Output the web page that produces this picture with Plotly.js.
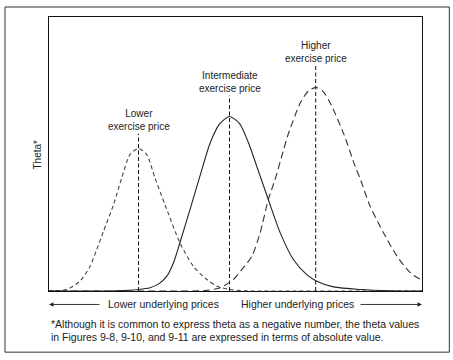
<!DOCTYPE html>
<html>
<head>
<meta charset="utf-8">
<script src="https://cdn.plot.ly/plotly-3.0.1.min.js"></script>
<style>
  html, body { margin: 0; padding: 0; background: #fff; }
  #chart { width: 453px; height: 360px; }
</style>
</head>
<body>
<div id="chart"></div>
<script>
// Underlying price (0-100, arbitrary units) and theta (absolute value, arbitrary units)
const xLower = [0, 4.75, 8.3, 11.0, 12.8, 14.6, 17.3, 19.5, 21.7, 24.0, 26.2, 28.4, 31.1, 35.1, 38.7, 42.3, 45.0, 48.6, 52.6, 56.6, 100];
const thetaLower = [0.1, 0.55, 3.6, 9.0, 15.1, 21.8, 31.5, 41.3, 49.8, 52.0, 49.8, 41.3, 31.5, 17.6, 9.0, 4.2, 1.75, 0.55, 0.07, 0, 0];

const xIntermediate = [0, 18.2, 24.0, 27.1, 29.5, 31.6, 33.4, 35.1, 37.8, 40.5, 43.2, 45.7, 48.4, 51.1, 53.5, 55.7, 58.8, 62.0, 65.5, 69.1, 71.8, 76.3, 83.4, 91.5, 100];
const thetaIntermediate = [0, 0.07, 0.55, 1.2, 2.7, 5.4, 10.4, 17.6, 29.7, 42.1, 54.0, 60.9, 63.7, 61.1, 54.0, 45.5, 33.4, 21.2, 11.5, 6.0, 3.6, 1.5, 0.55, 0.1, 0];

const xHigher = [0, 32.5, 41.9, 45.9, 49.4, 52.1, 54.4, 56.6, 58.8, 60.6, 62.9, 63.9, 67.35, 69.4, 71.5, 73.5, 75.4, 79.0, 82.1, 83.5, 86.1, 89.7, 93.3, 96.9, 100];
const thetaHigher = [0, 0, 0.18, 1.2, 4.2, 8.5, 12.7, 21.2, 33.4, 40.7, 51.6, 56.3, 68.6, 72.8, 74.3, 72.8, 68.6, 57.4, 45.4, 40.7, 30.9, 21.2, 12.7, 6.6, 3.9];

// Exercise prices (marked by vertical dashed lines) and their labels
const strikes = [24.0, 48.4, 71.5];
const strikeLabels = ["Lower<br>exercise price", "Intermediate<br>exercise price", "Higher<br>exercise price"];
const strikeLineTop = [57.4, 71.3, 82.2];

const axisLabels = ["Lower underlying prices", "Higher underlying prices"];
const axisLabelX = [30.6, 66.7];
const yAxisTitle = "Theta*";
const footnoteLines = [
  "*Although it is common to express theta as a negative number, the theta values",
  "in Figures 9-8, 9-10, and 9-11 are expressed in terms of absolute value."
];

const FONT = "Liberation Sans, Arial, Helvetica, sans-serif";

const traces = [];
// vertical strike lines
strikes.forEach((k, i) => {
  traces.push({
    x: [k, k], y: [0, strikeLineTop[i]],
    mode: "lines", line: {color: "#111", width: 1, dash: "4px,2.5px"},
    hoverinfo: "skip", showlegend: false
  });
});
traces.push({
  x: xLower, y: thetaLower, mode: "lines", name: "Lower exercise price",
  line: {color: "#444", width: 1.1, dash: "4px,3px", shape: "spline", smoothing: 0.7}, showlegend: false
});
traces.push({
  x: xIntermediate, y: thetaIntermediate, mode: "lines", name: "Intermediate exercise price",
  line: {color: "#222", width: 1.1, shape: "spline", smoothing: 0.7}, showlegend: false
});
traces.push({
  x: xHigher, y: thetaHigher, mode: "lines", name: "Higher exercise price",
  line: {color: "#333", width: 1.1, dash: "7px,4px", shape: "spline", smoothing: 0.7}, showlegend: false
});

const arrowRowY = -0.0492; // paper y of arrow row

const annotations = [];
strikes.forEach((k, i) => {
  annotations.push({
    x: k, y: strikeLineTop[i], xref: "x", yref: "y",
    text: strikeLabels[i], showarrow: false, xanchor: "center", yanchor: "bottom",
    align: "center", font: {family: FONT, size: 10, color: "#222"}
  });
});
axisLabels.forEach((t, i) => {
  annotations.push({
    x: axisLabelX[i], y: arrowRowY, xref: "x", yref: "paper", text: t,
    showarrow: false, xanchor: "center", yanchor: "middle", font: {family: FONT, size: 10.5, color: "#222"}
  });
});
// arrows
annotations.push({
  x: 0, y: arrowRowY, xref: "x", yref: "paper", text: "", showarrow: true,
  arrowhead: 2, arrowsize: 1, arrowwidth: 0.9, arrowcolor: "#222", ax: 52, ay: 0
});
annotations.push({
  x: 100, y: arrowRowY, xref: "x", yref: "paper", text: "", showarrow: true,
  arrowhead: 2, arrowsize: 1, arrowwidth: 0.9, arrowcolor: "#222", ax: -63, ay: 0
});
annotations.push({
  x: -0.0295, y: 0.498, xref: "paper", yref: "paper", text: yAxisTitle, textangle: -90,
  showarrow: false, xanchor: "center", yanchor: "middle", font: {family: FONT, size: 10, color: "#222"}
});
const footY = [-0.1222, -0.1671];
footnoteLines.forEach((t, i) => {
  annotations.push({
    x: 0, y: footY[i], xref: "paper", yref: "paper", text: t, showarrow: false,
    xanchor: "left", yanchor: "middle", align: "left", font: {family: FONT, size: 10.5, color: "#222"}
  });
});

const layout = {
  width: 453, height: 360,
  margin: {l: 49, r: 31.3, t: 17.3, b: 68.5, pad: 0},
  paper_bgcolor: "#fff", plot_bgcolor: "#fff",
  xaxis: {range: [0, 100], showgrid: false, zeroline: false, showticklabels: false, ticks: "",
          showline: true, mirror: true, linecolor: "#111", linewidth: 1, fixedrange: true},
  yaxis: {range: [0, 100], showgrid: false, zeroline: false, showticklabels: false, ticks: "",
          showline: true, mirror: true, linecolor: "#111", linewidth: 1, fixedrange: true},
  annotations: annotations,
  shapes: [{
    type: "rect", xref: "paper", yref: "paper",
    x0: -0.118, x1: 1.0733, y0: -0.2232, y1: 1.0365,
    line: {color: "#333", width: 1}
  }],
  showlegend: false
};

Plotly.newPlot("chart", traces, layout, {displayModeBar: false, staticPlot: true});
</script>
</body>
</html>
